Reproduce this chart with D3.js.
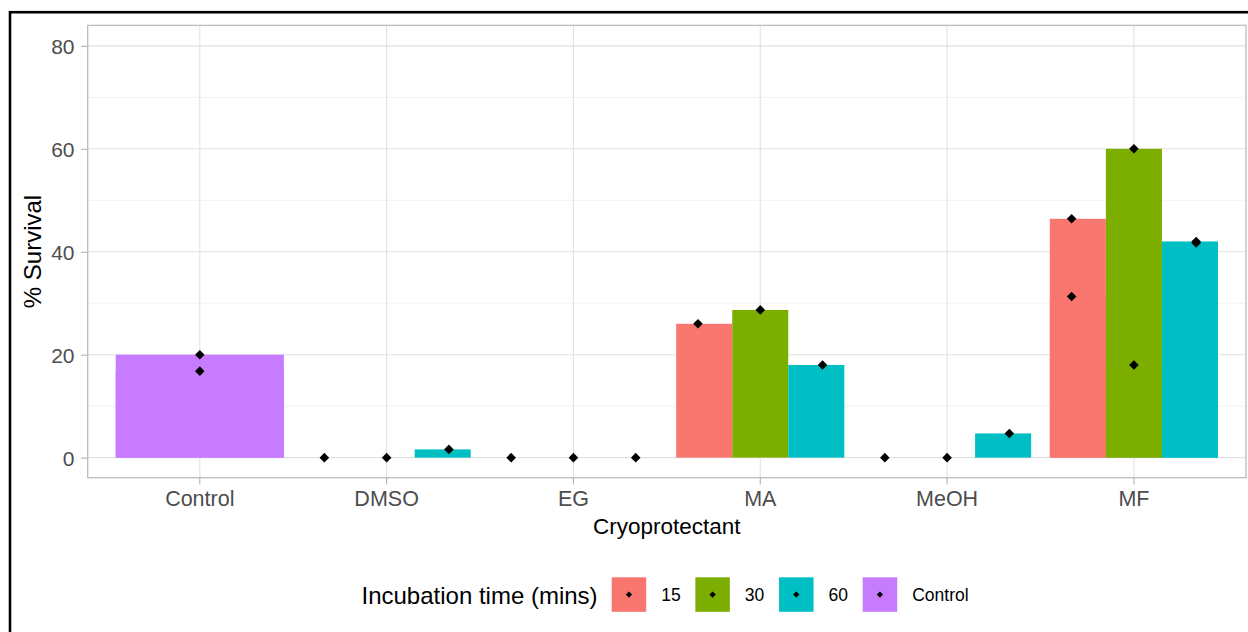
<!DOCTYPE html>
<html>
<head>
<meta charset="utf-8">
<script src="https://cdn.jsdelivr.net/npm/d3@7"></script>
<style>
  html, body { margin: 0; padding: 0; background: #ffffff; }
  svg { display: block; font-family: "Liberation Sans", Arial, Helvetica, sans-serif; }
</style>
</head>
<body>
<svg id="chart" width="1248" height="632"></svg>
<script>
// Cryoprotectant survival data: one array per incubation time,
// aligned with `categories`; each entry holds the replicate values.
const categories = ["Control", "DMSO", "EG", "MA", "MeOH", "MF"];
const times = ["15", "30", "60"];
const legendLabels = ["15", "30", "60", "Control"];
const yTicks = [0, 20, 40, 60, 80];
const yMinor = [10, 30, 50, 70];

const survival15 = [[], [0], [0], [26.0], [0], [46.4, 31.3]];
const survival30 = [[], [0], [0], [28.7], [0], [60.0, 18.0]];
const survival60 = [[], [1.6], [0], [18.0], [4.7], [42.0, 41.7]];
const survivalControl = [[20.0, 16.8], [], [], [], [], []];

const colours = {"15": "#F8766D", "30": "#7CAE00", "60": "#00BFC4", "Control": "#C77CFF"};

// Flatten into rows: {category, group, value}
const seriesByGroup = {"15": survival15, "30": survival30, "60": survival60, "Control": survivalControl};
const rows = [];
Object.entries(seriesByGroup).forEach(([group, arr]) => {
  arr.forEach((vals, i) => vals.forEach(v => rows.push({category: categories[i], group, value: v})));
});

const svg = d3.select("#chart");

// Panel geometry
const panel = {left: 87.7, right: 1246, top: 25.3, bottom: 477.7};

const x = d3.scaleBand().domain(categories)
  .range([panel.left, panel.right]).paddingInner(0).paddingOuter(0.1);
const step = x.step();

const y = d3.scaleLinear().domain([-3.9, 84]).range([panel.bottom, panel.top]);

// Dodge scales: bars over 0.9 of a slot, points over a full slot
const barDodge = d3.scaleBand().domain(times).range([-0.45 * step, 0.45 * step]);
const pointDodge = d3.scaleBand().domain(times).range([-0.5 * step, 0.5 * step]);

const cx = c => x(c) + step / 2;

// Grid
const grid = svg.append("g");
grid.selectAll(".minor").data(yMinor).join("line")
  .attr("x1", panel.left).attr("x2", panel.right)
  .attr("y1", d => y(d)).attr("y2", d => y(d))
  .attr("stroke", "#EFEFEF").attr("stroke-width", 0.8);
grid.selectAll(".majorY").data(yTicks).join("line")
  .attr("x1", panel.left).attr("x2", panel.right)
  .attr("y1", d => y(d)).attr("y2", d => y(d))
  .attr("stroke", "#E2E2E2").attr("stroke-width", 1.1);
grid.selectAll(".majorX").data(categories).join("line")
  .attr("x1", d => cx(d)).attr("x2", d => cx(d))
  .attr("y1", panel.top).attr("y2", panel.bottom)
  .attr("stroke", "#E2E2E2").attr("stroke-width", 1.1);

// Bars (one per replicate; overlapping bars show the largest)
svg.append("g").selectAll("rect").data(rows).join("rect")
  .attr("x", d => d.group === "Control" ? cx(d.category) - 0.45 * step : cx(d.category) + barDodge(d.group))
  .attr("width", d => d.group === "Control" ? 0.9 * step : barDodge.bandwidth())
  .attr("y", d => y(Math.max(0, d.value)))
  .attr("height", d => Math.abs(y(0) - y(d.value)))
  .attr("fill", d => colours[d.group]);

// Replicate points (filled diamonds)
const diamond = d3.symbol().type(d3.symbolSquare).size(46);
svg.append("g").selectAll("path").data(rows).join("path")
  .attr("d", diamond)
  .attr("transform", d => {
    const px = d.group === "Control" ? cx(d.category) : cx(d.category) + pointDodge(d.group) + pointDodge.bandwidth() / 2;
    return `translate(${px},${y(d.value)}) rotate(45)`;
  })
  .attr("fill", "#000");

// Panel border
svg.append("rect")
  .attr("x", panel.left).attr("y", panel.top)
  .attr("width", panel.right - panel.left).attr("height", panel.bottom - panel.top)
  .attr("fill", "none").attr("stroke", "#B8B8B8").attr("stroke-width", 1.2);

// Axes
const yAxis = svg.append("g").attr("transform", `translate(${panel.left},0)`)
  .call(d3.axisLeft(y).tickValues(yTicks).tickSize(6.7).tickPadding(6.5));
yAxis.select(".domain").remove();
yAxis.selectAll(".tick line").attr("stroke", "#B3B3B3").attr("stroke-width", 1.1);
yAxis.selectAll(".tick text").attr("fill", "#4D4D4D").style("font-size", "21px")
  .attr("dy", "0.36em");

const xAxis = svg.append("g").attr("transform", `translate(0,${panel.bottom})`)
  .call(d3.axisBottom(x).tickSize(6.7).tickPadding(6.6));
xAxis.select(".domain").remove();
xAxis.selectAll(".tick line").attr("stroke", "#B3B3B3").attr("stroke-width", 1.1);
xAxis.selectAll(".tick text").attr("fill", "#4D4D4D").style("font-size", "21.5px");

// Axis titles
svg.append("text")
  .attr("x", (panel.left + panel.right) / 2).attr("y", 534)
  .attr("text-anchor", "middle").style("font-size", "22.5px").attr("fill", "#000")
  .text("Cryoprotectant");
svg.append("text")
  .attr("transform", `translate(40.5,${(panel.top + panel.bottom) / 2}) rotate(-90)`)
  .attr("text-anchor", "middle").style("font-size", "24px").attr("fill", "#000")
  .text("% Survival");

// Legend
const legend = svg.append("g");
legend.append("text").attr("x", 361.5).attr("y", 603.5)
  .style("font-size", "24px").attr("fill", "#000")
  .text("Incubation time (mins)");
const legendX = d3.scalePoint().domain(legendLabels).range([611.7, 862.7]);
const keySize = 34.5;
const keyTop = 577.3;
const keys = legend.selectAll(".key").data(legendLabels).join("g")
  .attr("transform", d => `translate(${legendX(d)},${keyTop})`);
keys.append("rect").attr("width", keySize).attr("height", keySize)
  .attr("fill", d => colours[d]);
keys.append("path").attr("d", d3.symbol().type(d3.symbolSquare).size(20))
  .attr("transform", `translate(${keySize / 2},${keySize / 2}) rotate(45)`)
  .attr("fill", "#000");
keys.append("text").attr("x", 49.5).attr("y", keySize / 2).attr("dy", "0.36em")
  .style("font-size", "17.5px").attr("fill", "#000")
  .text(d => d);

// Outer frame
svg.append("rect").attr("x", 10).attr("y", 12.2)
  .attr("width", 1300).attr("height", 700)
  .attr("fill", "none").attr("stroke", "#000").attr("stroke-width", 2.6);
</script>
</body>
</html>
